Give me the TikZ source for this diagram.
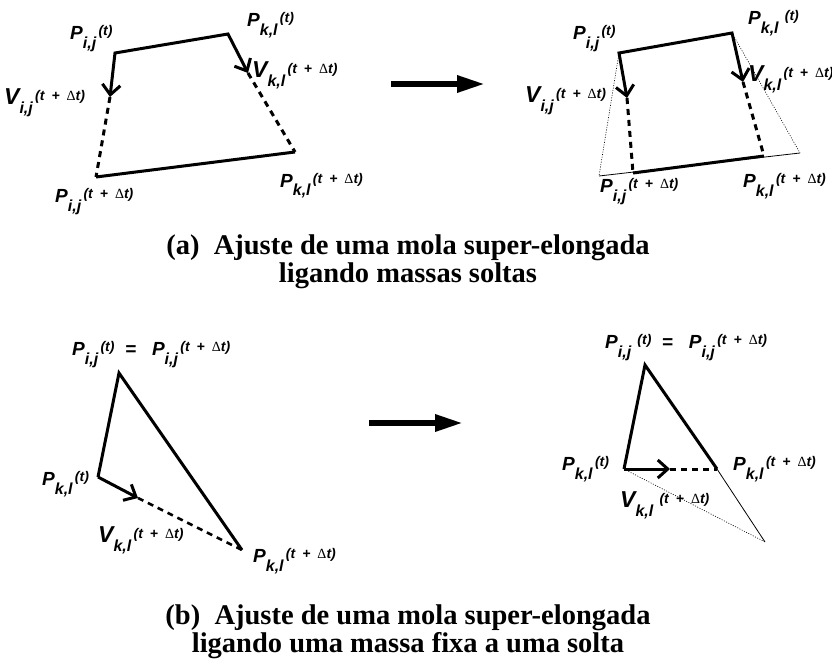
\documentclass[tikz,border=0pt]{standalone}
\usepackage{fontspec}
\setmainfont{Liberation Serif}
\newfontfamily\lblfont{Liberation Sans}
\newfontfamily\deltafont{Liberation Serif}
\usetikzlibrary{arrows.meta}

\newcommand{\D}{{\deltafont\mdseries\upshape\symbol{"0394}}}
\newcommand{\sym}[3]{#1\raisebox{-9pt}{\fontsize{16}{16}\selectfont #2}\raisebox{4pt}{\fontsize{14}{14}\selectfont\,#3}}
\newcommand{\vel}[2]{\sym{{\fontsize{23}{23}\selectfont V}}{#1}{#2}}
\newcommand{\tdt}{(t\enspace+\enspace\D t)}

\begin{document}
\begin{tikzpicture}[
  x=1pt, y=-1pt,
  lbl/.style={anchor=base west, inner sep=0pt,
              font=\lblfont\bfseries\itshape\fontsize{19}{19}\selectfont},
  legenda/.style={align=center, inner sep=0pt, font=\bfseries\fontsize{28.5}{28}\selectfont},
  mola/.style={line width=3pt},
  vec/.style={line width=3pt},
  barb/.style={-{Straight Barb[length=10pt,width=18pt]}},
  tracejado/.style={line width=3pt, dash pattern=on 6pt off 5pt},
  fino/.style={line width=0.8pt},
  pontilhado/.style={line width=0.6pt, dash pattern=on 1pt off 1.5pt},
  seta/.style={line width=6pt, -{Triangle[length=28pt,width=16pt]}}
]
\useasboundingbox (0,0) rectangle (832,671);

% (a) antes
\coordinate (pij) at (115,53);
\coordinate (pkl) at (228,34);
\coordinate (vij) at (110,97);
\coordinate (vkl) at (248,73);
\coordinate (pijn) at (96,177);
\coordinate (pkln) at (295,152);
\draw[vec, {Straight Barb[length=10pt,width=18pt]}-{Straight Barb[length=10pt,width=18pt]}]
  (vij) -- (pij) -- (pkl) -- (vkl);
\draw[tracejado] (vij) -- (pijn);
\draw[tracejado] (vkl) -- (pkln);
\draw[mola] (pijn) -- (pkln);
\node[lbl] (lpij) at (70,40) {\sym{P}{i,j}{(t)}};
\node[lbl] (lpkl) at (247,27) {\sym{P}{k,l}{(t)}};
\node[lbl] (lvij) at (4,105) {\vel{i,j}{\tdt}};
\node[lbl] (lvkl) at (252,78) {\vel{k,l}{\tdt}};
\node[lbl] (lpijn) at (55,203) {\sym{P}{i,j}{\tdt}};
\node[lbl] (lpkln) at (280,187) {\sym{P}{k,l}{\tdt}};

\coordinate (a1) at (391,84);
\coordinate (a2) at (485,84);
\draw[seta] (a1) -- (a2);

% (a) depois
\coordinate (qij) at (619,53);
\coordinate (qkl) at (732,33);
\coordinate (wij) at (627,98);
\coordinate (wkl) at (743,82);
\coordinate (qijn) at (633,173);
\coordinate (qkln) at (764,156);
\coordinate (qija) at (599,176);
\coordinate (qkla) at (800,153);
\draw[pontilhado] (qij) -- (qija);
\draw[pontilhado] (qkl) -- (qkla);
\draw[fino] (qija) -- (qkla);
\draw[vec, {Straight Barb[length=10pt,width=18pt]}-{Straight Barb[length=10pt,width=18pt]}]
  (wij) -- (qij) -- (qkl) -- (wkl);
\draw[tracejado] (wij) -- (qijn);
\draw[tracejado] (wkl) -- (qkln);
\draw[mola] (qijn) -- (qkln);
\node[lbl] (lqij) at (573,40) {\sym{P}{i,j}{(t)}};
\node[lbl] (lqkl) at (748,25) {\sym{P}{k,l}{\ (t)}};
\node[lbl] (lwij) at (525,103) {\vel{i,j}{\tdt}};
\node[lbl] (lwkl) at (748,82) {\vel{k,l}{\tdt}};
\node[lbl] (lqijn) at (600,193) {\sym{P}{i,j}{\tdt}};
\node[lbl] (lqkln) at (743,188) {\sym{P}{k,l}{\tdt}};

\node[legenda] (capa) at (408,262) {(a)~~Ajuste de uma mola super-elongada\\ligando massas soltas};

% (b) antes
\coordinate (rij) at (119,373);
\coordinate (rkl) at (98,477);
\coordinate (ukl) at (138,498);
\coordinate (rkln) at (242,550);
\draw[mola] (rkl) -- (rij) -- (rkln);
\draw[vec, barb] (rkl) -- (ukl);
\draw[tracejado, line width=2.5pt] (ukl) -- (rkln);
\node[lbl] (lrij) at (72,355) {\sym{P}{i,j}{(t)}\ \ =\ \ \ \sym{P}{i,j}{\tdt}};
\node[lbl] (lrkl) at (42,485) {\sym{P}{k,l}{(t)}};
\node[lbl] (lukl) at (98,542) {\vel{k,l}{\tdt}};
\node[lbl] (lrkln) at (253,562) {\sym{P}{k,l}{\tdt}};

\coordinate (b1) at (369,423);
\coordinate (b2) at (463,423);
\draw[seta] (b1) -- (b2);

% (b) depois
\coordinate (sij) at (645,365);
\coordinate (skl) at (624,469);
\coordinate (tkl) at (670,469);
\coordinate (skln) at (717,469);
\coordinate (skla) at (765,542);
\draw[pontilhado] (skl) -- (skla);
\draw[fino] (skln) -- (skla);
\draw[mola] (skl) -- (sij) -- (skln);
\draw[vec, barb] (skl) -- (tkl);
\draw[tracejado] (tkl) -- (skln);
\node[lbl] (lsij) at (605,348) {\sym{P}{i,j}{\ (t)}\ \ =\ \ \ \sym{P}{i,j}{\tdt}};
\node[lbl] (lskl) at (562,470) {\sym{P}{k,l}{(t)}};
\node[lbl] (ltkl) at (620,507) {\vel{k,l}{\ \tdt}};
\node[lbl] (lskln) at (733,470) {\sym{P}{k,l}{\tdt}};

\node[legenda] (capb) at (408,632) {(b)~~Ajuste de uma mola super-elongada\\ligando uma massa fixa a uma solta};
\end{tikzpicture}
\end{document}
